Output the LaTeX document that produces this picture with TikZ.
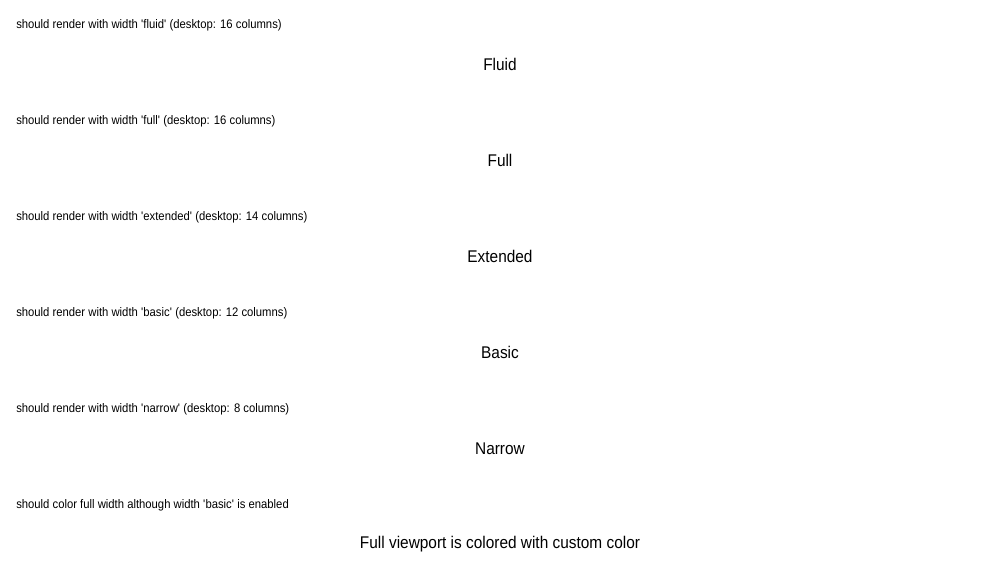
\documentclass[tikz,border=0pt]{standalone}
\usepackage{fontspec}
\setmainfont{Liberation Sans}[FakeStretch=0.91]
\usetikzlibrary{positioning}
\newcommand{\q}{\textquotesingle}

\begin{document}
\begin{tikzpicture}[x=0.75pt,y=-0.75pt,
	% Test title style
	testcase/.style={anchor=west,inner sep=0pt,font=\fontsize{9.3}{11}\selectfont},
	% Rendered content style
	content/.style={anchor=center,inner sep=0pt,font=\fontsize{12.7}{15}\selectfont}
	]
	\useasboundingbox (0,0) rectangle (1000,576);
	%% Test titles and contents
	\node (t1) [testcase] at (16,25) {should render with width \q fluid\q{} (desktop: 16 columns)};
	\node (c1) [content] at (500,64.5) {Fluid};
	\node (t2) [testcase] at (16,121) {should render with width \q full\q{} (desktop: 16 columns)};
	\node (c2) [content] at (500,160.5) {Full};
	\node (t3) [testcase] at (16,217) {should render with width \q extended\q{} (desktop: 14 columns)};
	\node (c3) [content] at (500,256.5) {Extended};
	\node (t4) [testcase] at (16,313) {should render with width \q basic\q{} (desktop: 12 columns)};
	\node (c4) [content] at (500,352.5) {Basic};
	\node (t5) [testcase] at (16,409) {should render with width \q narrow\q{} (desktop: 8 columns)};
	\node (c5) [content] at (500,448.5) {Narrow};
	\node (t6) [testcase] at (16,505) {should color full width although width \q basic\q{} is enabled};
	\node (c6) [content] at (500,544.5) {Full viewport is colored with custom color};
\end{tikzpicture}
\end{document}
